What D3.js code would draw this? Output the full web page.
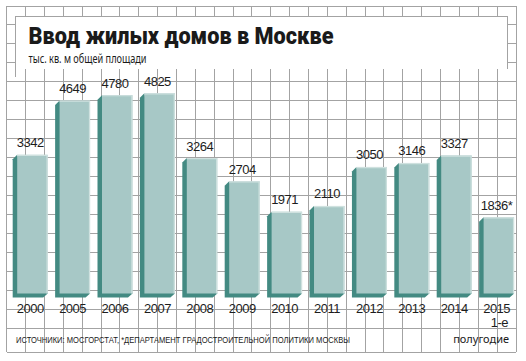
<!DOCTYPE html>
<html><head><meta charset="utf-8">
<script src="https://cdn.jsdelivr.net/npm/d3@7/dist/d3.min.js"></script>
<style>
html,body{margin:0;padding:0;background:#fff;}
svg{display:block;}
.num{font-family:"Liberation Sans",Arial,sans-serif;font-size:13px;fill:#1d1d1d;letter-spacing:-0.5px;}
</style></head>
<body>
<svg id="c" width="526" height="361"></svg>
<script>
const years = ["2000","2005","2006","2007","2008","2009","2010","2011","2012","2013","2014","2015"];
const values = [3342,4649,4780,4825,3264,2704,1971,2110,3050,3146,3327,1836];
const valueLabels = ["3342","4649","4780","4825","3264","2704","1971","2110","3050","3146","3327","1836*"];
const title = "Ввод жилых домов в Москве";
const subtitle = "тыс. кв. м общей площади";
const footer = "ИСТОЧНИКИ: МОСГОРСТАТ, *ДЕПАРТАМЕНТ ГРАДОСТРОИТЕЛЬНОЙ ПОЛИТИКИ МОСКВЫ";
const lastNote = ["1-е","полугодие"];

const svg = d3.select("#c");
const gridColor = "#a3a3a3";

// grid
const gx0 = 6.7, gx1 = 516, gy0 = 6, cell = 18.9, gyLast = 328.3, gy1 = 352;
const grid = svg.append("g").attr("stroke", gridColor).attr("stroke-width", 1).attr("shape-rendering","crispEdges");
const nCols = Math.round((gx1 - gx0) / 18.86);
for (let k = 0; k <= nCols; k++) {
  const x = gx0 + (gx1 - gx0) * k / nCols;
  grid.append("line").attr("x1", x).attr("x2", x).attr("y1", gy0).attr("y2", gy1);
}
const nRows = Math.round((gyLast - gy0) / cell);
for (let k = 0; k <= nRows; k++) {
  const y = gy0 + (gyLast - gy0) * k / nRows;
  grid.append("line").attr("x1", gx0).attr("x2", gx1).attr("y1", y).attr("y2", y);
}
grid.append("line").attr("x1", gx0).attr("x2", gx1).attr("y1", gy1).attr("y2", gy1);

// title box
const bx0 = 15, bx1 = 507.7, by0 = 16, by1 = 69;
svg.append("rect").attr("x", bx0).attr("y", by0).attr("width", bx1 - bx0).attr("height", by1 - by0).attr("fill", "#fff");
const bb = svg.append("g").attr("stroke", gridColor).attr("stroke-width", 1).attr("fill","none").attr("shape-rendering","crispEdges");
bb.append("path").attr("d", `M${bx0},77V${by0}H${bx1}V${by1}`);

svg.append("text").text(title)
  .attr("x", 28.5).attr("y", 43.5)
  .attr("textLength", 305).attr("lengthAdjust","spacingAndGlyphs")
  .style("font-family","Roboto, 'Open Sans', sans-serif").style("font-weight", 900)
  .style("font-size","23.5px").style("fill","#1a1a1a");
svg.append("text").text(subtitle)
  .attr("x", 28.5).attr("y", 63.3)
  .attr("textLength", 118).attr("lengthAdjust","spacingAndGlyphs")
  .style("font-family","'Noto Sans', sans-serif")
  .style("font-size","12.3px").style("fill","#1a1a1a");

// scales
const x = d3.scaleBand().domain(years).range([12.7, 514.1]).paddingInner(0.175).paddingOuter(0);
const y = d3.scaleLinear().domain([0, 5000]).range([293.5, 86]);
const depth = 4.5;
const bw = x.bandwidth();
const fw = bw - depth;
const base = y(0);

const bars = svg.append("g").selectAll("g").data(years).join("g");
bars.append("path")
  .attr("fill", "#438a82")
  .attr("d", (d, i) => {
    const fx = x(d) + depth, top = y(values[i]);
    return `M${fx},${top}L${fx - depth},${top + depth}L${fx - depth},${base + 4}L${fx + fw - depth},${base + 4}L${fx + fw},${base}Z`;
  });
bars.append("rect")
  .attr("x", d => x(d) + depth)
  .attr("y", (d, i) => y(values[i]))
  .attr("width", fw)
  .attr("height", (d, i) => base - y(values[i]))
  .attr("fill", "#a7c8c6");
// subtle highlights
bars.append("path")
  .attr("fill","none").attr("stroke","#cfe1df").attr("stroke-width",1.2)
  .attr("d", (d, i) => {
    const fx = x(d) + depth, top = y(values[i]);
    return `M${fx},${top + 0.6}H${fx + fw - 0.6}V${base}`;
  });

// value labels
svg.append("g").selectAll("text").data(years).join("text")
  .attr("class","num")
  .attr("x", d => x(d) + bw / 2)
  .attr("y", (d, i) => y(values[i]) - 7.5)
  .attr("text-anchor","middle")
  .text((d, i) => valueLabels[i]);

// axis labels
const xAxis = d3.axisBottom(x).tickSize(0).tickPadding(0);
const ax = svg.append("g").attr("transform", `translate(0,${312.5 - 10})`).call(xAxis);
ax.select(".domain").remove();
ax.selectAll("text").attr("class","num").attr("dy", null).attr("y", 10)
  .attr("dominant-baseline", null).style("font-size", null).style("font-family", null)
  .attr("fill", null);
ax.attr("font-size", null).attr("font-family", null);

const last = years[years.length - 1];
svg.append("text").attr("class","num")
  .attr("x", x(last) + bw - 6).attr("y", 326.8).attr("text-anchor","end").text(lastNote[0]);
svg.append("text").text(lastNote[1])
  .attr("x", x(last) + bw - 5).attr("y", 343).attr("text-anchor","end")
  .style("font-family","'Noto Sans', sans-serif").style("font-size","11px").style("fill","#1a1a1a");

svg.append("text").text(footer)
  .attr("x", 16).attr("y", 342.5)
  .attr("textLength", 334).attr("lengthAdjust","spacingAndGlyphs")
  .style("font-family","'Liberation Sans', Arial, sans-serif")
  .style("font-size","8.8px").style("fill","#1a1a1a");
</script>
</body></html>
